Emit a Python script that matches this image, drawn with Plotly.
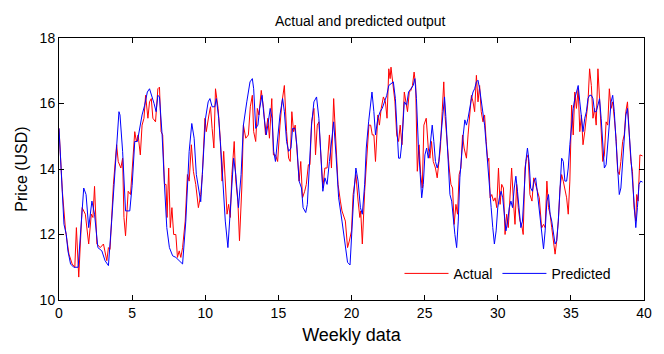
import plotly.graph_objects as go

# Predicted series (week, price)
pred_week = [0, 0.12, 0.34, 0.5, 0.61, 0.79, 1.01, 1.31, 1.69, 1.85, 2.03, 2.25, 2.43, 2.66, 2.93, 3.15, 3.38, 3.6, 3.94, 4.1,
             4.17, 4.35, 4.55, 4.84, 5.0, 5.18, 5.36, 5.52, 5.68, 5.86, 6.04, 6.19, 6.35, 6.5, 6.64, 6.76, 6.87, 7.05, 7.21, 7.37,
             7.55, 7.77, 7.99, 8.22, 8.45, 8.67, 8.9, 9.08, 9.24, 9.39, 9.57, 9.69, 9.8, 10.02, 10.2, 10.32, 10.47, 10.65, 10.76, 10.92,
             11.15, 11.37, 11.55, 11.71, 11.94, 12.09, 12.27, 12.45, 12.61, 12.84, 13.06, 13.22, 13.31, 13.45, 13.6, 13.72, 13.88, 14.01, 14.17, 14.28,
             14.44, 14.57, 14.68, 14.8, 14.95, 15.11, 15.29, 15.41, 15.56, 15.7, 15.86, 15.97, 16.13, 16.26, 16.42, 16.58, 16.69, 16.87, 16.98, 17.09,
             17.27, 17.43, 17.61, 17.77, 17.88, 18.04, 18.18, 18.33, 18.49, 18.67, 18.78, 18.94, 19.12, 19.35, 19.58, 19.73, 19.9, 20.0, 20.16, 20.3,
             20.45, 20.61, 20.74, 20.9, 21.01, 21.17, 21.28, 21.4, 21.53, 21.64, 21.8, 21.96, 22.1, 22.25, 22.41, 22.55, 22.7, 22.86, 23.0, 23.11,
             23.22, 23.33, 23.45, 23.61, 23.77, 23.9, 24.06, 24.22, 24.33, 24.44, 24.57, 24.69, 24.8, 24.91, 25.02, 25.14, 25.25, 25.36, 25.52, 25.63,
             25.74, 25.86, 25.97, 26.08, 26.24, 26.36, 26.45, 26.62, 26.73, 26.85, 26.96, 27.07, 27.19, 27.3, 27.41, 27.52, 27.64, 27.75, 27.86, 27.97,
             28.09, 28.2, 28.31, 28.42, 28.54, 28.65, 28.76, 28.87, 28.99, 29.1, 29.21, 29.32, 29.44, 29.55, 29.66, 29.77, 29.89, 30.0, 30.11, 30.23,
             30.34, 30.45, 30.56, 30.68, 30.79, 30.9, 31.01, 31.13, 31.24, 31.35, 31.47, 31.58, 31.69, 31.8, 31.92, 32.03, 32.14, 32.25, 32.37, 32.48,
             32.59, 32.7, 32.82, 32.93, 33.04, 33.13, 33.24, 33.36, 33.47, 33.58, 33.69, 33.81, 33.92, 34.03, 34.14, 34.26, 34.37, 34.48, 34.59, 34.71,
             34.82, 34.93, 35.05, 35.16, 35.27, 35.38, 35.5, 35.61, 35.72, 35.83, 35.95, 36.06, 36.17, 36.28, 36.4, 36.51, 36.62, 36.73, 36.85, 36.96,
             37.07, 37.18, 37.29, 37.41, 37.52, 37.63, 37.75, 37.86, 37.97, 38.09, 38.2, 38.31, 38.42, 38.54, 38.65, 38.76, 38.87, 38.99, 39.1, 39.21,
             39.32, 39.44, 39.55, 39.66, 39.77, 39.9]
pred_price = [15.24, 14.2, 12.31, 12.0, 11.5, 11.1, 11.0, 11.0, 13.42, 13.22, 12.21, 13.02, 12.62, 11.6, 11.5, 11.2, 11.05, 12.4, 14.74, 15.75,
              15.65, 14.54, 12.72, 12.72, 13.5, 14.84, 14.84, 15.24, 15.65, 15.95, 16.35, 16.45, 16.25, 16.0, 15.75, 16.25, 16.2, 15.04, 13.53, 12.21,
              11.6, 11.35, 11.3, 11.2, 11.1, 12.41, 14.54, 15.39, 14.94, 13.83, 13.32, 13.0, 13.83, 15.55, 16.05, 16.15, 15.9, 15.9, 16.15, 15.55,
              14.03, 12.41, 11.6, 12.82, 14.33, 13.83, 12.82, 13.83, 15.34, 16.05, 16.66, 16.76, 16.45, 15.24, 15.34, 15.85, 16.25, 15.65, 15.04, 15.34,
              15.85, 15.55, 14.54, 14.23, 14.94, 15.65, 16.15, 15.75, 14.84, 14.54, 14.64, 15.24, 15.24, 14.74, 13.63, 13.42, 12.82, 12.67, 12.92, 14.03,
              15.34, 16.05, 16.2, 15.55, 14.43, 13.32, 13.73, 13.53, 14.23, 15.14, 15.44, 14.43, 13.12, 12.41, 11.71, 11.15, 11.07, 12.0, 13.22, 14.03,
              13.63, 12.82, 12.62, 13.53, 14.64, 15.44, 15.85, 16.35, 15.75, 15.04, 15.55, 15.75, 15.85, 16.05, 16.25, 16.55, 16.61, 16.66, 16.15, 15.04,
              14.33, 14.33, 14.84, 16.05, 15.95, 16.35, 16.45, 16.55, 16.76, 16.15, 14.74, 13.83, 13.12, 13.53, 14.43, 14.64, 14.33, 14.64, 15.34, 14.84,
              14.23, 14.03, 14.23, 14.84, 15.65, 16.2, 15.6, 14.03, 13.22, 13.02, 12.41, 12.0, 11.6, 12.41, 13.73, 14.43, 15.04, 15.5, 15.34, 15.55,
              15.95, 16.15, 16.35, 16.45, 16.66, 16.71, 16.45, 16.05, 15.75, 15.34, 14.74, 14.03, 13.42, 12.82, 12.21, 11.71, 12.11, 12.82, 13.12, 13.32,
              13.12, 12.52, 12.11, 12.41, 12.82, 13.02, 12.82, 13.42, 13.78, 13.32, 12.62, 12.21, 12.41, 13.22, 14.23, 14.64, 14.23, 13.42, 13.32, 13.63,
              13.73, 13.32, 12.82, 12.2, 11.85, 11.56, 12.11, 13.02, 13.22, 12.62, 12.41, 12.0, 11.71, 11.81, 12.41, 13.42, 14.33, 14.23, 13.63, 13.63,
              14.03, 14.74, 15.34, 15.85, 16.15, 16.35, 16.55, 16.05, 15.55, 15.14, 15.55, 15.75, 16.15, 16.25, 16.25, 16.15, 15.75, 15.75, 15.95, 16.15,
              15.55, 14.64, 14.03, 14.13, 14.84, 15.44, 16.05, 16.25, 15.75, 14.84, 14.03, 13.22, 13.42, 14.23, 15.14, 15.65, 15.85, 15.04, 14.23, 13.53,
              12.72, 12.21, 12.82, 13.53, 13.63, 13.6]

# Actual series (week, price)
act_week = [0, 0.23, 0.45, 0.68, 0.9, 1.08, 1.19, 1.35, 1.58, 1.8, 2.03, 2.21, 2.32, 2.43, 2.59, 2.82, 3.04, 3.27, 3.38, 3.49,
            3.72, 3.94, 4.05, 4.23, 4.35, 4.44, 4.55, 4.73, 4.89, 5.07, 5.18, 5.29, 5.41, 5.56, 5.68, 5.81, 5.92, 6.08, 6.19, 6.31,
            6.42, 6.6, 6.76, 6.87, 6.98, 7.09, 7.21, 7.32, 7.39, 7.5, 7.61, 7.72, 7.84, 7.99, 8.1, 8.22, 8.33, 8.45, 8.63, 8.78,
            8.9, 9.05, 9.19, 9.35, 9.53, 9.69, 9.8, 9.98, 10.07, 10.25, 10.36, 10.47, 10.59, 10.7, 10.88, 11.04, 11.15, 11.26, 11.37, 11.49,
            11.6, 11.71, 11.82, 11.98, 12.09, 12.23, 12.34, 12.5, 12.61, 12.77, 12.95, 13.08, 13.22, 13.31, 13.45, 13.56, 13.67, 13.83, 13.99, 14.12,
            14.28, 14.39, 14.55, 14.66, 14.8, 14.95, 15.11, 15.25, 15.41, 15.56, 15.7, 15.81, 15.92, 16.04, 16.15, 16.31, 16.42, 16.53, 16.65, 16.8,
            16.91, 17.05, 17.16, 17.27, 17.43, 17.54, 17.66, 17.77, 17.88, 18.04, 18.18, 18.33, 18.49, 18.63, 18.78, 18.94, 19.08, 19.24, 19.35, 19.58,
            19.73, 19.85, 20.0, 20.11, 20.3, 20.45, 20.57, 20.63, 20.74, 20.9, 21.06, 21.19, 21.31, 21.42, 21.53, 21.64, 21.8, 21.91, 22.03, 22.18,
            22.32, 22.43, 22.55, 22.64, 22.7, 22.82, 22.97, 23.09, 23.22, 23.33, 23.45, 23.61, 23.72, 23.83, 23.95, 24.06, 24.17, 24.28, 24.39, 24.5,
            24.62, 24.73, 24.84, 24.95, 25.11, 25.25, 25.36, 25.47, 25.59, 25.74, 25.86, 25.97, 26.08, 26.2, 26.31, 26.4, 26.55, 26.68, 26.8, 26.91,
            27.02, 27.14, 27.25, 27.36, 27.48, 27.59, 27.7, 27.86, 27.97, 28.09, 28.2, 28.31, 28.42, 28.54, 28.65, 28.76, 28.87, 28.99, 29.1, 29.21,
            29.32, 29.39, 29.48, 29.59, 29.71, 29.82, 29.93, 30.05, 30.16, 30.27, 30.39, 30.5, 30.61, 30.72, 30.84, 30.95, 31.07, 31.18, 31.29, 31.4,
            31.52, 31.63, 31.74, 31.86, 31.97, 32.08, 32.2, 32.34, 32.46, 32.57, 32.68, 32.84, 33.0, 33.13, 33.24, 33.36, 33.47, 33.58, 33.69, 33.81,
            33.92, 34.03, 34.14, 34.26, 34.37, 34.48, 34.59, 34.71, 34.82, 34.93, 35.05, 35.16, 35.27, 35.38, 35.5, 35.61, 35.72, 35.83, 35.95, 36.06,
            36.17, 36.28, 36.4, 36.51, 36.62, 36.73, 36.85, 36.96, 37.07, 37.18, 37.29, 37.41, 37.52, 37.63, 37.75, 37.86, 37.97, 38.09, 38.2, 38.31,
            38.42, 38.54, 38.65, 38.76, 38.87, 38.99, 39.1, 39.21, 39.32, 39.44, 39.5, 39.6, 39.72, 39.9]
act_price = [15.24, 13.32, 12.11, 11.4, 11.1, 11.0, 12.21, 10.7, 12.82, 12.62, 11.71, 12.62, 12.52, 13.47, 11.71, 11.6, 11.71, 11.2, 11.6, 11.55,
             13.53, 14.74, 14.23, 14.03, 14.33, 12.52, 11.96, 13.32, 13.22, 14.54, 15.14, 14.84, 15.04, 14.43, 15.34, 15.55, 16.25, 15.55, 16.05, 16.15,
             15.55, 15.44, 16.45, 16.5, 15.14, 15.04, 13.53, 13.53, 12.52, 14.03, 12.21, 12.82, 12.0, 12.0, 11.3, 11.5, 11.3, 11.6, 12.41, 13.83,
             13.63, 14.74, 13.93, 13.53, 12.82, 13.22, 13.83, 15.55, 15.14, 15.65, 15.9, 15.24, 14.64, 16.45, 15.85, 14.84, 13.63, 14.54, 13.53, 12.62,
             12.92, 12.52, 13.83, 14.84, 13.63, 13.02, 11.81, 13.42, 15.34, 14.94, 15.04, 15.9, 16.25, 15.14, 14.84, 15.85, 15.65, 16.4, 15.85, 15.04,
             15.55, 14.94, 16.15, 14.43, 14.43, 14.23, 15.34, 16.05, 16.55, 15.14, 14.33, 14.23, 15.75, 15.14, 15.34, 14.23, 13.63, 14.23, 13.12, 13.32,
             13.53, 14.13, 14.13, 15.44, 15.85, 14.43, 15.34, 15.44, 14.64, 13.42, 14.03, 14.03, 15.04, 14.03, 16.15, 14.54, 13.53, 13.02, 12.72, 12.41,
             11.6, 11.8, 12.11, 13.22, 13.83, 13.02, 12.52, 12.72, 11.71, 13.32, 14.33, 15.34, 15.34, 15.04, 15.04, 14.23, 15.65, 15.34, 15.85, 16.2,
             16.05, 15.55, 17.06, 16.76, 17.11, 16.55, 16.05, 15.04, 14.84, 15.34, 14.74, 16.35, 16.05, 15.75, 16.35, 16.4, 16.55, 16.96, 16.55, 13.93,
             14.74, 13.83, 13.42, 15.34, 15.55, 14.64, 14.33, 14.84, 14.23, 14.03, 13.73, 14.23, 14.64, 15.75, 16.66, 15.6, 14.64, 14.03, 13.53, 13.42,
             12.31, 12.92, 12.62, 13.83, 14.03, 15.04, 14.64, 14.33, 15.04, 15.75, 16.25, 16.05, 15.75, 16.86, 16.05, 16.55, 15.75, 15.44, 15.65, 14.84,
             14.23, 14.33, 13.12, 13.22, 13.02, 13.12, 12.82, 14.03, 12.92, 13.53, 13.42, 12.0, 12.62, 12.21, 13.02, 14.03, 13.02, 12.31, 13.53, 12.82,
             12.41, 12.31, 12.0, 14.03, 14.33, 14.43, 13.22, 13.02, 13.73, 13.53, 13.32, 13.12, 12.2, 12.31, 12.21, 13.63, 12.82, 12.62, 12.21, 11.81,
             11.4, 11.81, 12.41, 13.42, 13.83, 13.63, 13.42, 13.12, 12.62, 13.63, 15.95, 15.04, 16.35, 15.85, 16.45, 15.14, 15.65, 14.74, 15.14, 15.55,
             16.05, 17.06, 16.55, 15.55, 15.85, 15.34, 17.06, 16.15, 15.34, 14.23, 14.43, 15.44, 15.34, 16.45, 15.85, 16.05, 15.55, 14.94, 13.93, 13.83,
             14.23, 14.84, 15.04, 15.75, 16.05, 15.04, 14.23, 13.93, 12.82, 12.41, 13.22, 13.02, 14.43, 14.4]

x_ticks = [0, 5, 10, 15, 20, 25, 30, 35, 40]
y_ticks = [10, 12, 14, 16, 18]

FONT = "Liberation Sans, Arial, sans-serif"

fig = go.Figure()
fig.add_trace(go.Scatter(x=act_week, y=act_price, mode="lines", name="Actual",
                         line=dict(color="#ff0000", width=1)))
fig.add_trace(go.Scatter(x=pred_week, y=pred_price, mode="lines", name="Predicted",
                         line=dict(color="#0000ff", width=1)))

axis_common = dict(showline=True, linecolor="black", linewidth=1, mirror="ticks",
                   ticks="inside", ticklen=5, tickcolor="black", showgrid=False,
                   zeroline=False, tickfont=dict(family=FONT, size=14, color="black"))

fig.update_layout(
    width=656, height=346,
    margin=dict(l=50, r=16, t=30, b=54),
    paper_bgcolor="white", plot_bgcolor="white",
    title=dict(text="Actual and predicted output", x=0.537, xanchor="center", y=0.963, yanchor="middle",
               font=dict(family=FONT, size=14, color="black")),
    xaxis=dict(range=[0, 40], tickvals=x_ticks,
               title=dict(text="Weekly data", font=dict(family=FONT, size=18, color="black"), standoff=8),
               **axis_common),
    yaxis=dict(range=[10, 18], tickvals=y_ticks,
               title=dict(text="Price (USD)", font=dict(family=FONT, size=16, color="black"), standoff=8),
               **axis_common),
    legend=dict(orientation="h", x=0.953, xanchor="right", y=0.1, yanchor="middle",
                bgcolor="rgba(255,255,255,0)", font=dict(family=FONT, size=14, color="black"),
                itemwidth=44, tracegroupgap=0),
    showlegend=True,
)

fig.write_html("out.html")
